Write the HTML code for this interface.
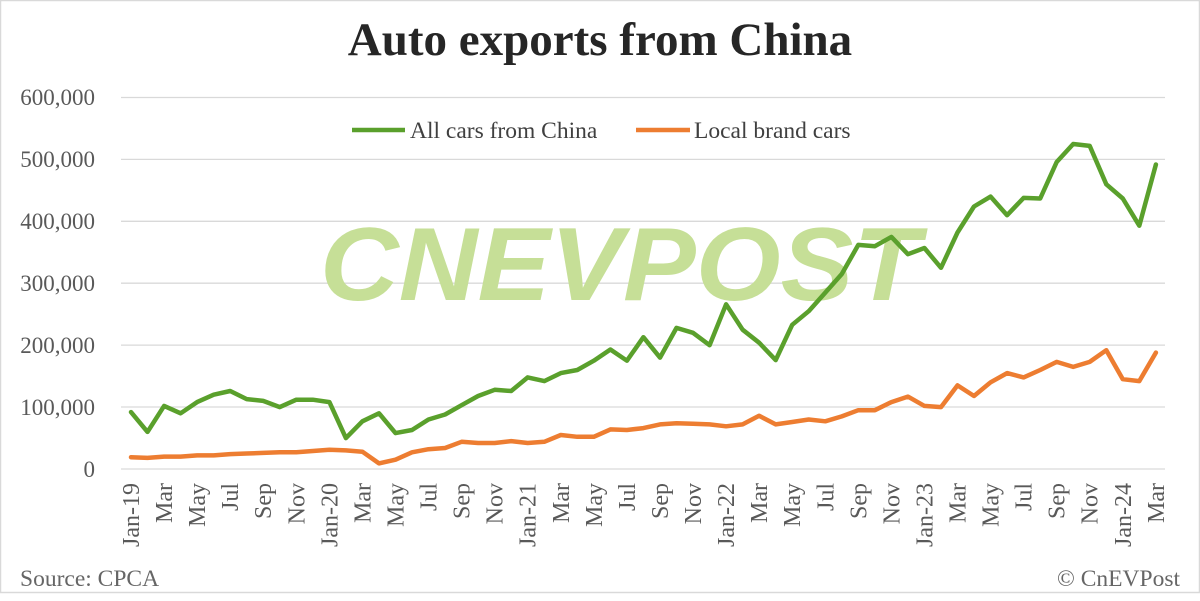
<!DOCTYPE html>
<html><head><meta charset="utf-8"><style>
html,body{margin:0;padding:0;background:#fff}
svg{display:block}
text{font-family:"Liberation Serif",serif}
</style></head><body>
<svg id="s" width="1200" height="601" viewBox="0 0 1200 601" xmlns="http://www.w3.org/2000/svg">
<rect x="0.5" y="0.5" width="1199" height="592" fill="#fff" stroke="#d9d9d9" stroke-width="1.5"/>
<text x="600" y="55" text-anchor="middle" font-size="47" font-weight="bold" fill="#262626">Auto exports from China</text>
<g stroke="#d9d9d9" stroke-width="1.3">
<line x1="121" x2="1165" y1="97.5" y2="97.5"/><line x1="121" x2="1165" y1="159.4" y2="159.4"/>
<line x1="121" x2="1165" y1="221.3" y2="221.3"/><line x1="121" x2="1165" y1="283.2" y2="283.2"/>
<line x1="121" x2="1165" y1="345.1" y2="345.1"/><line x1="121" x2="1165" y1="407" y2="407"/>
<line x1="121" x2="1165" y1="469" y2="469"/>
</g>
<text x="620" y="300" text-anchor="middle" font-size="104" font-weight="bold" font-style="italic" fill="#c6df97" textLength="600" lengthAdjust="spacingAndGlyphs" style="font-family:'Liberation Sans',sans-serif">CNEVPOST</text>
<g font-size="23" fill="#595959" text-anchor="end">
<text x="95" y="105">600,000</text><text x="95" y="167">500,000</text><text x="95" y="229">400,000</text>
<text x="95" y="291">300,000</text><text x="95" y="353">200,000</text><text x="95" y="415">100,000</text>
<text x="95" y="477">0</text>
</g>
<g id="lines"></g>
<line x1="352" x2="405" y1="130" y2="130" stroke="#5aa02c" stroke-width="4.5"/>
<text x="410" y="138" font-size="23.5" fill="#404040">All cars from China</text>
<line x1="636" x2="690" y1="130" y2="130" stroke="#ed7d31" stroke-width="4.5"/>
<text x="694" y="138" font-size="23.5" fill="#404040">Local brand cars</text>
<text x="20" y="586" font-size="23.5" fill="#666">Source: CPCA</text>
<text x="1180" y="586" font-size="23.5" fill="#666" text-anchor="end">© CnEVPost</text>
<g font-size="24" fill="#595959" text-anchor="end">
<text transform="translate(131,483) rotate(-90)" dy="8">Jan-19</text>
<text transform="translate(164.1,483) rotate(-90)" dy="8">Mar</text>
<text transform="translate(197.1,483) rotate(-90)" dy="8">May</text>
<text transform="translate(230.2,483) rotate(-90)" dy="8">Jul</text>
<text transform="translate(263.2,483) rotate(-90)" dy="8">Sep</text>
<text transform="translate(296.3,483) rotate(-90)" dy="8">Nov</text>
<text transform="translate(329.4,483) rotate(-90)" dy="8">Jan-20</text>
<text transform="translate(362.4,483) rotate(-90)" dy="8">Mar</text>
<text transform="translate(395.5,483) rotate(-90)" dy="8">May</text>
<text transform="translate(428.5,483) rotate(-90)" dy="8">Jul</text>
<text transform="translate(461.6,483) rotate(-90)" dy="8">Sep</text>
<text transform="translate(494.7,483) rotate(-90)" dy="8">Nov</text>
<text transform="translate(527.7,483) rotate(-90)" dy="8">Jan-21</text>
<text transform="translate(560.8,483) rotate(-90)" dy="8">Mar</text>
<text transform="translate(593.8,483) rotate(-90)" dy="8">May</text>
<text transform="translate(626.9,483) rotate(-90)" dy="8">Jul</text>
<text transform="translate(660,483) rotate(-90)" dy="8">Sep</text>
<text transform="translate(693,483) rotate(-90)" dy="8">Nov</text>
<text transform="translate(726.1,483) rotate(-90)" dy="8">Jan-22</text>
<text transform="translate(759.1,483) rotate(-90)" dy="8">Mar</text>
<text transform="translate(792.2,483) rotate(-90)" dy="8">May</text>
<text transform="translate(825.3,483) rotate(-90)" dy="8">Jul</text>
<text transform="translate(858.3,483) rotate(-90)" dy="8">Sep</text>
<text transform="translate(891.4,483) rotate(-90)" dy="8">Nov</text>
<text transform="translate(924.4,483) rotate(-90)" dy="8">Jan-23</text>
<text transform="translate(957.5,483) rotate(-90)" dy="8">Mar</text>
<text transform="translate(990.6,483) rotate(-90)" dy="8">May</text>
<text transform="translate(1023.6,483) rotate(-90)" dy="8">Jul</text>
<text transform="translate(1056.7,483) rotate(-90)" dy="8">Sep</text>
<text transform="translate(1089.7,483) rotate(-90)" dy="8">Nov</text>
<text transform="translate(1122.8,483) rotate(-90)" dy="8">Jan-24</text>
<text transform="translate(1155.9,483) rotate(-90)" dy="8">Mar</text>
</g>
</svg>
<script>
var g=[92,60,102,90,108,120,126,113,110,100,112,112,108,50,77,90,58,63,80,88,103,118,128,126,148,142,155,160,175,193,175,213,180,228,220,200,266,225,204,176,233,255,285,315,362,360,375,347,357,325,382,424,440,410,438,437,496,525,522,460,437,393,492];
var o=[19,18,20,20,22,22,24,25,26,27,27,29,31,30,28,9,15,27,32,34,44,42,42,45,42,44,55,52,52,64,63,66,72,74,73,72,69,72,86,72,76,80,77,85,95,95,108,117,102,100,135,118,140,155,148,160,173,165,173,192,145,142,188];
function pts(a){return a.map(function(v,i){return (131+i*16.53).toFixed(1)+","+(469-v*0.619).toFixed(1)}).join(" ")}
var L=document.getElementById("lines"),ns="http://www.w3.org/2000/svg";
[[g,"#5aa02c"],[o,"#ed7d31"]].forEach(function(d){var p=document.createElementNS(ns,"polyline");p.setAttribute("points",pts(d[0]));p.setAttribute("fill","none");p.setAttribute("stroke",d[1]);p.setAttribute("stroke-width","4.5");p.setAttribute("stroke-linejoin","round");p.setAttribute("stroke-linecap","round");L.appendChild(p);});
</script>
</body></html>
